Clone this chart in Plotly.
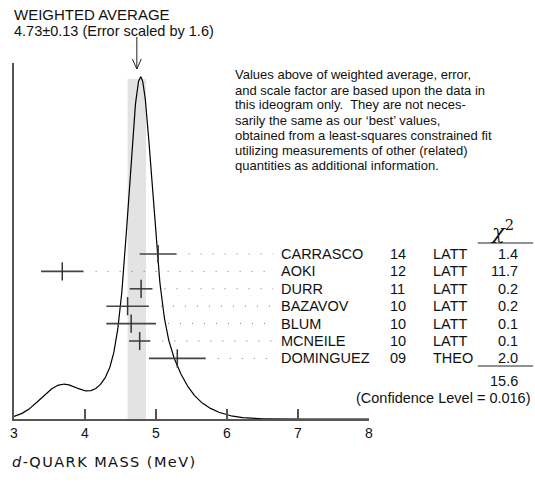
import numpy as np
import plotly.graph_objects as go

# ---- data ----
names = ["CARRASCO", "AOKI", "DURR", "BAZAVOV", "BLUM", "MCNEILE", "DOMINGUEZ"]
years = ["14", "12", "11", "10", "10", "10", "09"]
techs = ["LATT", "LATT", "LATT", "LATT", "LATT", "LATT", "THEO"]
values = [5.03, 3.68, 4.79, 4.60, 4.65, 4.77, 5.30]
errors = [0.26, 0.30, 0.16, 0.30, 0.35, 0.15, 0.40]
chi2 = ["1.4", "11.7", "0.2", "0.2", "0.1", "0.1", "2.0"]
chi2_total = "15.6"
conf_level = "0.016"
avg_value = 4.73
avg_error = 0.13
scale_factor = 1.6
x_ticks = [3, 4, 5, 6, 7, 8]

# ---- layout geometry (pixels) ----
W, H = 535, 485
L, R, T, B = 10, 166, 63, 66
PW, PH = W - L - R, H - T - B  # 359 x 356
X0, X1 = 3, 8

def px(p):  # pixel x -> paper x
    return (p - L) / PW

def py(p):  # pixel y -> paper y
    return (H - B - p) / PH

def yd(p):  # pixel y -> data y
    return H - B - p

FONT = "Liberation Sans, Arial, sans-serif"
fig = go.Figure()

# ideogram curve built from the measurements
xs = np.linspace(X0, X1, 800)
ys = np.zeros_like(xs)
for v, e in zip(values, errors):
    ys += (1.0 / e**2) * np.exp(-0.5 * ((xs - v) / e) ** 2)
ys = ys / ys.max() * yd(77)

# weighted-average band
fig.add_shape(type="rect", xref="x", yref="y",
              x0=avg_value - avg_error, x1=avg_value + avg_error,
              y0=0, y1=yd(79), fillcolor="#e3e3e3", line_width=0, layer="below")

fig.add_trace(go.Scatter(x=xs, y=ys, mode="lines",
                         line=dict(color="black", width=1.2),
                         hoverinfo="skip", showlegend=False))

row_y = [yd(254 + i * 17.4) for i in range(len(names))]
dot_end = X0 + (272 - L) / (PW / (X1 - X0))

for i, (v, e) in enumerate(zip(values, errors)):
    start = v + e + 0.17
    fig.add_trace(go.Scatter(x=[start, dot_end], y=[row_y[i], row_y[i]], mode="lines",
                             line=dict(color="#777", width=1, dash="1px,11px"),
                             hoverinfo="skip", showlegend=False))

fig.add_trace(go.Scatter(
    x=values, y=row_y, mode="markers",
    marker=dict(symbol="line-ns", size=13, line=dict(color="#333", width=1.5)),
    error_x=dict(type="data", array=errors, visible=True, width=0,
                 thickness=1.6, color="#444"),
    hoverinfo="skip", showlegend=False))

ann = []
def text(x, y, s, size=14, xanchor="left", yanchor="middle", yref="paper", font=FONT):
    ann.append(dict(x=x, y=y, xref="paper", yref=yref, text=s, showarrow=False,
                    xanchor=xanchor, yanchor=yanchor,
                    font=dict(family=font, size=size, color="#111")))

for i in range(len(names)):
    text(px(278), row_y[i], names[i], size=14.5, yref="y")
    text(px(388), row_y[i], years[i], size=14.5, yref="y")
    text(px(432), row_y[i], techs[i], size=14.5, yref="y")
    text(px(522), row_y[i], chi2[i], size=14.5, xanchor="right", yref="y")

text(px(503), py(230), "<i>χ</i><sup>2</sup>", size=21, xanchor="center",
     font="DejaVu Serif, serif")
text(px(522), py(381), chi2_total, size=14.5, xanchor="right")
text(px(535), py(398), f"(Confidence Level = {conf_level})", size=14.5, xanchor="right")

text(px(8), py(15), "WEIGHTED AVERAGE", size=15)
text(px(8), py(31), f"{avg_value}±{avg_error} (Error scaled by {scale_factor})", size=14.5)

para = ["Values above of weighted average, error,",
        "and scale factor are based upon the data in",
        "this ideogram only.  They are not neces-",
        "sarily the same as our \u2018best\u2019 values,",
        "obtained from a least-squares constrained fit",
        "utilizing measurements of other (related)",
        "quantities as additional information."]
for k, line in enumerate(para):
    text(px(231), py(75 + 15 * k), line.replace("  ", "&nbsp; "), size=13)

xtitle = "\u200a".join(list("-QUARK MASS (MeV)"))
text(px(6), py(462), "<i>d</i>\u200a" + xtitle, size=14.5,
     font="DejaVu Sans, sans-serif")

# chi2 rules
for yy in (243, 366):
    fig.add_shape(type="line", xref="paper", yref="paper",
                  x0=px(479), x1=px(535), y0=py(yy), y1=py(yy),
                  line=dict(color="#222", width=1))

# arrow to the weighted average
ax = (avg_value - X0) / (X1 - X0)
dx = 4.5 / PW
fig.add_shape(type="line", xref="paper", yref="paper",
              x0=ax, x1=ax, y0=py(37), y1=py(69), line=dict(color="#222", width=1))
fig.add_shape(type="path", xref="paper", yref="paper",
              path=f"M {ax-dx},{py(59)} L {ax},{py(69)} L {ax+dx},{py(59)}",
              line=dict(color="#222", width=1))

fig.update_layout(
    width=W, height=H, margin=dict(l=L, r=R, t=T, b=B),
    paper_bgcolor="white", plot_bgcolor="white",
    annotations=ann, showlegend=False,
    xaxis=dict(range=[X0, X1], tickvals=x_ticks, ticks="inside", ticklen=10,
               tickwidth=1.5, tickcolor="#555", showline=True, linecolor="#555",
               linewidth=1.5, showgrid=False, zeroline=False,
               tickfont=dict(family=FONT, size=14, color="#111")),
    yaxis=dict(range=[0, PH], showline=True, linecolor="#555", linewidth=1.5,
               showticklabels=False, ticks="", showgrid=False, zeroline=False),
)

fig.write_html("out.html", config={"displayModeBar": False},
               post_script="document.body.style.margin='0';document.body.style.padding='0';")
